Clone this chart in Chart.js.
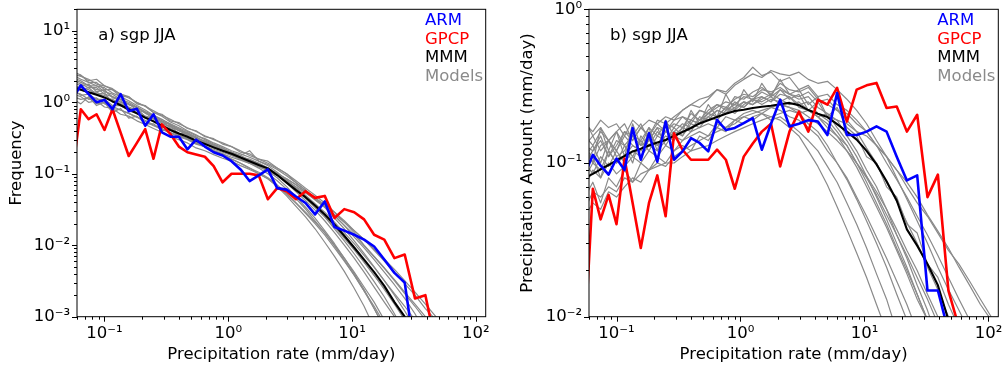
<!DOCTYPE html>
<html>
<head>
<meta charset="utf-8">
<title>sgp JJA precipitation distributions</title>
<script src="https://cdn.jsdelivr.net/npm/chart.js@4.4.1/dist/chart.umd.min.js"></script>
<style>
  body { margin: 0; background: #fff; }
  #wrap { position: relative; width: 1005px; height: 371px; }
  #wrap canvas { position: absolute; top: 0; }
</style>
</head>
<body>
<div id="wrap">
  <canvas id="freqChart" width="500" height="371" style="left:0"></canvas>
  <canvas id="amountChart" width="505" height="371" style="left:500px"></canvas>
</div>
<script>
// bin centres of the precipitation rate histogram (mm/day)
const rateBins = [0.05572, 0.06442, 0.07447, 0.08630, 0.1000, 0.1161, 0.1349, 0.1570, 0.1828, 0.2133,
  0.2489, 0.2911, 0.3404, 0.3990, 0.4677, 0.5495, 0.6471, 0.7621, 0.8995, 1.062,
  1.256, 1.486, 1.762, 2.089, 2.483, 2.958, 3.524, 4.207, 5.023, 6.012,
  7.211, 8.650, 10.40, 12.50, 15.07, 18.20, 21.98, 26.61, 32.21, 39.08,
  47.53, 57.81, 70.47, 86.10, 105.2, 128.8];

// a) frequency
const armFreq = [1.15, 1.73, 1.30, 1.00, 1.08, 0.80, 1.30, 0.75, 0.81, 0.47, 0.68, 0.38, 0.33, 0.33, 0.22, 0.30, 0.24, 0.20, 0.18, 0.15,
  0.115, 0.079, 0.095, 0.115, 0.063, 0.060, 0.048, 0.039, 0.027, 0.041, 0.018, 0.016, 0.014, 0.012, 0.0096, 0.0063, 0.0041, 0.0030, 0.0003];
const gpcpFreq = [0.12, 0.80, 0.58, 0.68, 0.41, 0.80, 0.38, 0.177, 0.27, 0.42, 0.162, 0.49, 0.36, 0.24, 0.20, 0.186, 0.173, 0.128, 0.076, 0.10,
  0.10, 0.10, 0.095, 0.044, 0.063, 0.057, 0.044, 0.057, 0.046, 0.049, 0.024, 0.032, 0.029, 0.023, 0.014, 0.012, 0.0066, 0.0074, 0.0018, 0.0020, 0.0004];
const mmmFreq = [1.62, 1.50, 1.38, 1.27, 1.17, 1.03, 0.91, 0.80, 0.70, 0.61, 0.54, 0.47, 0.41, 0.366, 0.33, 0.29, 0.26, 0.234, 0.21, 0.19,
  0.169, 0.15, 0.133, 0.119, 0.096, 0.075, 0.059, 0.047, 0.036, 0.027, 0.0195, 0.0136, 0.0093, 0.0063, 0.0042, 0.0027, 0.0016, 0.0010, 0.0005];
const freqModels = [
  [2.5, 2.3, 2.1, 1.8, 1.7, 1.5, 1.3, 1.15, 1.0, 0.88, 0.76, 0.66, 0.58, 0.50, 0.44, 0.39, 0.34, 0.30, 0.27, 0.24, 0.21,
   0.18, 0.16, 0.14, 0.12, 0.10, 0.080, 0.063, 0.050, 0.039, 0.029, 0.021, 0.015, 0.010, 0.0070, 0.0048, 0.0032, 0.0021, 0.0014, 0.0009, 0.0005],
  [1.1, 0.95, 1.2, 0.9, 1.0, 0.72, 0.82, 0.60, 0.64, 0.50, 0.50, 0.40, 0.42, 0.33, 0.31, 0.27, 0.24, 0.21, 0.19, 0.16, 0.14,
   0.12, 0.105, 0.088, 0.070, 0.053, 0.039, 0.028, 0.020, 0.014, 0.0092, 0.0060, 0.0038, 0.0023, 0.0014, 0.0008, 0.0004],
  [1.9, 1.7, 1.8, 1.4, 1.5, 1.15, 1.1, 0.92, 0.85, 0.70, 0.64, 0.52, 0.49, 0.40, 0.38, 0.31, 0.29, 0.25, 0.22, 0.20, 0.18,
   0.155, 0.14, 0.12, 0.10, 0.080, 0.062, 0.047, 0.036, 0.027, 0.019, 0.013, 0.0088, 0.0058, 0.0038, 0.0024, 0.0015, 0.0009, 0.0005],
  [2.7, 2.4, 2.0, 2.1, 1.7, 1.55, 1.3, 1.2, 0.98, 0.88, 0.72, 0.64, 0.53, 0.47, 0.40, 0.35, 0.30, 0.26, 0.23, 0.20, 0.17,
   0.15, 0.13, 0.11, 0.088, 0.066, 0.048, 0.034, 0.024, 0.016, 0.0105, 0.0066, 0.0040, 0.0024, 0.0013, 0.0007],
  [1.4, 1.3, 1.1, 1.15, 0.95, 0.88, 0.78, 0.70, 0.62, 0.54, 0.47, 0.42, 0.37, 0.33, 0.30, 0.26, 0.24, 0.21, 0.19, 0.17, 0.155,
   0.14, 0.125, 0.11, 0.095, 0.080, 0.066, 0.054, 0.044, 0.035, 0.027, 0.021, 0.016, 0.012, 0.0088, 0.0064, 0.0046, 0.0032, 0.0022, 0.0015, 0.0010, 0.0006],
  [2.0, 1.8, 1.6, 1.6, 1.3, 1.2, 1.0, 0.95, 0.78, 0.72, 0.58, 0.54, 0.44, 0.41, 0.35, 0.32, 0.27, 0.25, 0.22, 0.20, 0.18,
   0.21, 0.15, 0.13, 0.105, 0.082, 0.062, 0.046, 0.034, 0.025, 0.017, 0.0115, 0.0076, 0.0049, 0.0031, 0.0019, 0.0011, 0.0006],
  [1.3, 1.2, 1.0, 1.05, 0.86, 0.82, 0.68, 0.64, 0.55, 0.49, 0.43, 0.38, 0.33, 0.30, 0.27, 0.23, 0.21, 0.185, 0.165, 0.15, 0.13,
   0.115, 0.10, 0.085, 0.068, 0.052, 0.039, 0.029, 0.021, 0.015, 0.010, 0.0066, 0.0042, 0.0026, 0.0016, 0.0009, 0.0005],
  [2.2, 2.0, 1.7, 1.7, 1.4, 1.3, 1.1, 1.0, 0.86, 0.74, 0.66, 0.57, 0.50, 0.44, 0.39, 0.34, 0.31, 0.27, 0.24, 0.21, 0.19,
   0.17, 0.15, 0.135, 0.115, 0.094, 0.075, 0.059, 0.046, 0.035, 0.026, 0.019, 0.013, 0.0092, 0.0063, 0.0042, 0.0028, 0.0018, 0.0011, 0.0006],
  [1.7, 1.6, 1.5, 1.3, 1.25, 1.05, 0.95, 0.84, 0.72, 0.62, 0.55, 0.46, 0.41, 0.35, 0.31, 0.27, 0.24, 0.21, 0.18, 0.16, 0.14,
   0.12, 0.10, 0.085, 0.066, 0.049, 0.035, 0.025, 0.017, 0.011, 0.0070, 0.0043, 0.0025, 0.0014, 0.0007],
  [1.8, 1.5, 1.6, 1.3, 1.35, 1.0, 1.05, 0.80, 0.82, 0.62, 0.60, 0.46, 0.47, 0.36, 0.37, 0.29, 0.28, 0.23, 0.22, 0.18, 0.17,
   0.14, 0.135, 0.115, 0.098, 0.076, 0.060, 0.045, 0.034, 0.025, 0.018, 0.0125, 0.0086, 0.0058, 0.0038, 0.0025, 0.0016, 0.0009, 0.0005],
  [1.2, 1.1, 1.15, 0.95, 1.0, 0.82, 0.78, 0.70, 0.62, 0.56, 0.48, 0.43, 0.38, 0.34, 0.31, 0.27, 0.245, 0.22, 0.20, 0.18, 0.16,
   0.145, 0.13, 0.115, 0.10, 0.085, 0.070, 0.057, 0.046, 0.037, 0.029, 0.022, 0.016, 0.012, 0.0085, 0.0060, 0.0042, 0.0029, 0.0020, 0.0013, 0.0009, 0.0005],
  [2.4, 2.1, 1.9, 1.7, 1.6, 1.35, 1.2, 1.05, 0.90, 0.78, 0.66, 0.58, 0.49, 0.43, 0.37, 0.33, 0.28, 0.25, 0.22, 0.195, 0.17,
   0.15, 0.13, 0.115, 0.095, 0.074, 0.056, 0.042, 0.031, 0.022, 0.015, 0.010, 0.0066, 0.0042, 0.0026, 0.0016, 0.0010, 0.0006],
  [1.6, 1.5, 1.35, 1.4, 1.15, 1.1, 0.95, 0.86, 0.78, 0.64, 0.60, 0.50, 0.46, 0.40, 0.35, 0.32, 0.27, 0.25, 0.21, 0.20, 0.17,
   0.16, 0.14, 0.12, 0.10, 0.082, 0.064, 0.050, 0.038, 0.029, 0.021, 0.015, 0.0105, 0.0072, 0.0049, 0.0032, 0.0021, 0.0014, 0.0009, 0.0005],
  [2.3, 2.4, 1.9, 1.9, 1.5, 1.5, 1.2, 1.2, 0.95, 0.90, 0.72, 0.68, 0.55, 0.52, 0.43, 0.40, 0.33, 0.31, 0.26, 0.24, 0.20,
   0.19, 0.16, 0.15, 0.12, 0.10, 0.075, 0.060, 0.044, 0.034, 0.024, 0.017, 0.0115, 0.0077, 0.0050, 0.0032, 0.0020, 0.0012, 0.0007],
  [1.5, 1.25, 1.3, 1.1, 1.1, 0.90, 0.90, 0.76, 0.70, 0.60, 0.55, 0.47, 0.43, 0.37, 0.34, 0.29, 0.27, 0.23, 0.21, 0.19, 0.17,
   0.15, 0.135, 0.12, 0.10, 0.085, 0.070, 0.055, 0.043, 0.034, 0.026, 0.019, 0.014, 0.0098, 0.0069, 0.0048, 0.0033, 0.0022, 0.0015, 0.0010, 0.0006],
  [2.1, 1.9, 1.7, 1.5, 1.45, 1.2, 1.1, 0.95, 0.85, 0.72, 0.64, 0.55, 0.48, 0.42, 0.36, 0.32, 0.28, 0.24, 0.21, 0.19, 0.16,
   0.14, 0.12, 0.10, 0.080, 0.061, 0.045, 0.032, 0.022, 0.015, 0.0098, 0.0062, 0.0038, 0.0023, 0.0013, 0.0007]
];

// b) precipitation amount (mm/day)
const armAmount = [0.085, 0.113, 0.096, 0.084, 0.107, 0.090, 0.169, 0.105, 0.156, 0.102, 0.186, 0.105, 0.119, 0.145, 0.135, 0.119, 0.191, 0.164, 0.169, 0.182,
  0.196, 0.122, 0.18, 0.258, 0.173, 0.18, 0.19, 0.186, 0.152, 0.285, 0.152, 0.152, 0.16, 0.173, 0.16, 0.11, 0.077, 0.083, 0.0148, 0.0148, 0.008, 0.003];
const gpcpAmount = [0.0076, 0.068, 0.043, 0.062, 0.040, 0.107, 0.055, 0.028, 0.055, 0.083, 0.045, 0.156, 0.122, 0.105, 0.105, 0.105, 0.122, 0.105, 0.068, 0.11,
  0.134, 0.16, 0.18, 0.095, 0.16, 0.216, 0.16, 0.258, 0.24, 0.308, 0.186, 0.30, 0.32, 0.332, 0.228, 0.233, 0.16, 0.206, 0.060, 0.084, 0.0148, 0.0085, 0.004];
const mmmAmount = [0.080, 0.085, 0.091, 0.097, 0.104, 0.111, 0.119, 0.124, 0.130, 0.136, 0.141, 0.150, 0.159, 0.169, 0.181, 0.190, 0.199, 0.209, 0.218, 0.222,
  0.228, 0.232, 0.236, 0.241, 0.246, 0.238, 0.221, 0.209, 0.199, 0.179, 0.160, 0.142, 0.120, 0.098, 0.076, 0.057, 0.037, 0.029, 0.022, 0.016, 0.0095, 0.005];
const amountModels = [
  [0.18, 0.16, 0.19, 0.17, 0.18, 0.15, 0.19, 0.17, 0.19, 0.18, 0.20, 0.19, 0.22, 0.24, 0.26, 0.27, 0.30, 0.28, 0.32, 0.35, 0.38,
   0.36, 0.40, 0.38, 0.37, 0.39, 0.35, 0.33, 0.34, 0.30, 0.26, 0.22, 0.18, 0.14, 0.11, 0.08, 0.058, 0.042, 0.030, 0.021, 0.015, 0.011, 0.008],
  [0.06, 0.075, 0.055, 0.08, 0.07, 0.09, 0.075, 0.10, 0.09, 0.11, 0.10, 0.12, 0.13, 0.12, 0.15, 0.14, 0.17, 0.16, 0.19, 0.18, 0.20,
   0.21, 0.19, 0.20, 0.18, 0.16, 0.14, 0.12, 0.095, 0.075, 0.055, 0.040, 0.028, 0.019, 0.013, 0.008],
  [0.11, 0.13, 0.10, 0.14, 0.12, 0.15, 0.13, 0.12, 0.16, 0.13, 0.15, 0.14, 0.17, 0.16, 0.20, 0.19, 0.22, 0.21, 0.25, 0.23, 0.26,
   0.27, 0.25, 0.28, 0.27, 0.24, 0.25, 0.21, 0.19, 0.16, 0.13, 0.10, 0.075, 0.055, 0.040, 0.028, 0.020, 0.014, 0.0095],
  [0.14, 0.10, 0.17, 0.12, 0.16, 0.11, 0.18, 0.13, 0.17, 0.12, 0.19, 0.15, 0.16, 0.22, 0.18, 0.24, 0.20, 0.28, 0.22, 0.30, 0.25,
   0.33, 0.27, 0.35, 0.28, 0.30, 0.24, 0.27, 0.20, 0.19, 0.15, 0.12, 0.09, 0.07, 0.05, 0.034, 0.024, 0.016, 0.011, 0.007],
  [0.05, 0.065, 0.06, 0.07, 0.065, 0.08, 0.075, 0.085, 0.09, 0.095, 0.10, 0.10, 0.11, 0.12, 0.125, 0.13, 0.14, 0.15, 0.16, 0.17, 0.18,
   0.19, 0.20, 0.21, 0.22, 0.21, 0.22, 0.20, 0.21, 0.19, 0.18, 0.16, 0.15, 0.13, 0.11, 0.09, 0.075, 0.06, 0.046, 0.036, 0.028,
   0.021, 0.016, 0.012, 0.0095],
  [0.09, 0.11, 0.08, 0.12, 0.10, 0.13, 0.11, 0.14, 0.12, 0.15, 0.14, 0.16, 0.15, 0.18, 0.17, 0.20, 0.19, 0.22, 0.24, 0.23, 0.26,
   0.25, 0.27, 0.24, 0.23, 0.21, 0.18, 0.16, 0.13, 0.10, 0.078, 0.058, 0.042, 0.030, 0.021, 0.014, 0.0095],
  [0.13, 0.12, 0.15, 0.11, 0.14, 0.13, 0.10, 0.15, 0.13, 0.16, 0.14, 0.17, 0.15, 0.19, 0.18, 0.21, 0.20, 0.23, 0.22, 0.25, 0.24,
   0.27, 0.25, 0.30, 0.26, 0.28, 0.22, 0.25, 0.20, 0.23, 0.17, 0.15, 0.11, 0.10, 0.07, 0.06, 0.04, 0.035, 0.022, 0.018, 0.012, 0.0085],
  [0.19, 0.15, 0.17, 0.14, 0.16, 0.18, 0.14, 0.17, 0.15, 0.18, 0.16, 0.19, 0.20, 0.18, 0.22, 0.21, 0.24, 0.23, 0.26, 0.28, 0.27,
   0.30, 0.29, 0.31, 0.28, 0.26, 0.27, 0.23, 0.21, 0.17, 0.14, 0.11, 0.082, 0.060, 0.043, 0.030, 0.021, 0.014, 0.0095],
  [0.07, 0.09, 0.08, 0.10, 0.085, 0.095, 0.11, 0.10, 0.12, 0.11, 0.13, 0.12, 0.14, 0.15, 0.16, 0.15, 0.18, 0.17, 0.19, 0.20, 0.19,
   0.21, 0.20, 0.19, 0.17, 0.15, 0.12, 0.095, 0.072, 0.052, 0.037, 0.026, 0.018, 0.012, 0.008],
  [0.10, 0.12, 0.14, 0.11, 0.13, 0.16, 0.14, 0.17, 0.15, 0.19, 0.18, 0.20, 0.22, 0.24, 0.23, 0.26, 0.30, 0.29, 0.33, 0.36, 0.42,
   0.37, 0.39, 0.34, 0.36, 0.30, 0.32, 0.27, 0.28, 0.24, 0.22, 0.19, 0.16, 0.13, 0.10, 0.078, 0.060, 0.045, 0.034, 0.025, 0.018, 0.013, 0.0095],
  [0.12, 0.10, 0.13, 0.14, 0.11, 0.12, 0.15, 0.13, 0.14, 0.17, 0.13, 0.16, 0.18, 0.17, 0.19, 0.21, 0.20, 0.23, 0.21, 0.24, 0.26,
   0.24, 0.26, 0.25, 0.27, 0.23, 0.22, 0.20, 0.17, 0.15, 0.12, 0.094, 0.070, 0.052, 0.038, 0.027, 0.019, 0.013, 0.0095, 0.006],
  [0.045, 0.055, 0.05, 0.065, 0.06, 0.07, 0.08, 0.075, 0.09, 0.10, 0.095, 0.11, 0.12, 0.13, 0.14, 0.15, 0.16, 0.17, 0.18, 0.20, 0.21,
   0.22, 0.23, 0.24, 0.23, 0.22, 0.20, 0.18, 0.16, 0.14, 0.12, 0.10, 0.082, 0.065, 0.050, 0.037, 0.027, 0.020, 0.014, 0.010, 0.007],
  [0.15, 0.13, 0.16, 0.14, 0.12, 0.16, 0.15, 0.18, 0.14, 0.17, 0.16, 0.18, 0.17, 0.21, 0.19, 0.22, 0.24, 0.22, 0.27, 0.26, 0.29,
   0.31, 0.28, 0.33, 0.30, 0.29, 0.31, 0.26, 0.24, 0.22, 0.19, 0.16, 0.125, 0.10, 0.075, 0.056, 0.041, 0.030, 0.021, 0.015, 0.010, 0.007],
  [0.08, 0.10, 0.09, 0.12, 0.10, 0.11, 0.13, 0.12, 0.14, 0.13, 0.16, 0.15, 0.17, 0.19, 0.18, 0.20, 0.22, 0.21, 0.23, 0.25, 0.24,
   0.26, 0.28, 0.26, 0.24, 0.25, 0.22, 0.20, 0.18, 0.15, 0.13, 0.10, 0.080, 0.062, 0.046, 0.034, 0.025, 0.018, 0.013, 0.009],
  [0.10, 0.085, 0.11, 0.095, 0.12, 0.10, 0.12, 0.11, 0.13, 0.12, 0.14, 0.15, 0.14, 0.16, 0.17, 0.18, 0.17, 0.20, 0.19, 0.21, 0.22,
   0.21, 0.23, 0.22, 0.20, 0.19, 0.17, 0.15, 0.12, 0.10, 0.080, 0.060, 0.045, 0.033, 0.024, 0.017, 0.012, 0.008],
  [0.13, 0.15, 0.12, 0.14, 0.16, 0.13, 0.15, 0.14, 0.17, 0.15, 0.18, 0.17, 0.20, 0.19, 0.22, 0.21, 0.23, 0.25, 0.24, 0.27, 0.26,
   0.29, 0.27, 0.30, 0.28, 0.27, 0.29, 0.25, 0.26, 0.22, 0.21, 0.18, 0.16, 0.13, 0.11, 0.09, 0.07, 0.055, 0.045, 0.035, 0.027,
   0.022, 0.017, 0.013, 0.010]
];

// axes
const xTickValues = [0.1, 1, 10, 100];
const xTickLabels = ['10⁻¹', '10⁰', '10¹', '10²'];
const freqTickValues = [0.001, 0.01, 0.1, 1, 10];
const freqTickLabels = ['10⁻³', '10⁻²', '10⁻¹', '10⁰', '10¹'];
const amountTickValues = [0.01, 0.1, 1];
const amountTickLabels = ['10⁻²', '10⁻¹', '10⁰'];

const seriesNames = ['ARM', 'GPCP', 'MMM', 'Models'];
const seriesColors = ['#0000ff', '#ff0000', '#000000', '#8a8a8a'];

Chart.defaults.font.family = '"DejaVu Sans", sans-serif';
Chart.defaults.font.size = 16.5;
Chart.defaults.color = '#000';

const decades = [0.001, 0.01, 0.1, 1, 10, 100];

// major ticks on decades, minor ticks at 2..9 like matplotlib's log locator
function logTicks(min, max) {
  const out = [];
  decades.forEach(d => {
    for (let m = 1; m <= 9; m++) {
      const v = m === 1 ? d : m * d;
      if (v >= min * 0.9999 && v <= max * 1.0001) out.push({ value: v });
    }
  });
  return out;
}

function points(values) {
  return values.map((v, i) => ({ x: rateBins[i], y: v }));
}

function buildDatasets(arm, gpcp, mmm, models) {
  const sets = [
    { label: 'ARM', data: points(arm), borderColor: seriesColors[0], borderWidth: 2.6 },
    { label: 'GPCP', data: points(gpcp), borderColor: seriesColors[1], borderWidth: 2.6 },
    { label: 'MMM', data: points(mmm), borderColor: seriesColors[2], borderWidth: 2.1 }
  ];
  models.forEach((m, k) => {
    sets.push({ label: 'Model ' + (k + 1), data: points(m), borderColor: seriesColors[3], borderWidth: 1.2 });
  });
  return sets;
}

// frame, outward tick marks, panel label and coloured legend text
const decor = {
  id: 'decor',
  afterDraw(chart, args, opts) {
    const { ctx, chartArea: a, scales } = chart;
    ctx.save();
    ctx.strokeStyle = '#000';
    ctx.lineWidth = 1;
    scales.x.ticks.forEach(t => {
      const len = xTickValues.includes(t.value) ? 5 : 3;
      const px = Math.round(scales.x.getPixelForValue(t.value)) + 0.5;
      ctx.beginPath();
      ctx.moveTo(px, a.bottom);
      ctx.lineTo(px, a.bottom + len);
      ctx.stroke();
    });
    scales.y.ticks.forEach(t => {
      const len = opts.yMajor.includes(t.value) ? 5 : 3;
      const py = Math.round(scales.y.getPixelForValue(t.value)) + 0.5;
      ctx.beginPath();
      ctx.moveTo(a.left, py);
      ctx.lineTo(a.left - len, py);
      ctx.stroke();
    });
    ctx.strokeRect(a.left, a.top, a.right - a.left, a.bottom - a.top);

    ctx.font = '16.5px "DejaVu Sans"';
    ctx.textAlign = 'left';
    ctx.textBaseline = 'alphabetic';
    ctx.fillStyle = '#000';
    ctx.fillText(opts.label, opts.labelX, 40);
    seriesNames.forEach((name, k) => {
      ctx.fillStyle = seriesColors[k];
      ctx.fillText(name, opts.legendX, 25 + k * 18.6);
    });
    ctx.restore();
  }
};

function makeChart(id, cfg) {
  return new Chart(document.getElementById(id), {
    type: 'line',
    data: { datasets: cfg.datasets },
    plugins: [decor],
    options: {
      responsive: false,
      animation: false,
      events: [],
      layout: { padding: { left: 0, top: 9.3, right: cfg.padRight, bottom: 0 } },
      elements: {
        point: { radius: 0 },
        line: { tension: 0, fill: false, borderJoinStyle: 'round' }
      },
      plugins: {
        legend: { display: false },
        tooltip: { enabled: false },
        decor: { label: cfg.label, labelX: cfg.labelX, legendX: cfg.legendX, yMajor: cfg.yTicks }
      },
      scales: {
        x: {
          type: 'logarithmic',
          min: 0.06,
          max: 120,
          grid: { display: false, drawTicks: false },
          border: { display: false },
          afterBuildTicks: s => { s.ticks = logTicks(0.06, 120); },
          afterFit: s => { s.height = 54.3; s.paddingLeft = 0; s.paddingRight = 0; },
          ticks: {
            autoSkip: false, maxRotation: 0, minRotation: 0, padding: 7, color: '#000',
            callback: v => { const k = xTickValues.indexOf(v); return k < 0 ? '' : xTickLabels[k]; }
          },
          title: { display: true, text: 'Precipitation rate (mm/day)', color: '#000', padding: { top: 0, bottom: 6 } }
        },
        y: {
          type: 'logarithmic',
          min: cfg.yMin,
          max: cfg.yMax,
          grid: { display: false, drawTicks: false },
          border: { display: false },
          afterBuildTicks: s => { s.ticks = logTicks(cfg.yMin, cfg.yMax); },
          afterFit: s => { s.width = cfg.yWidth; s.paddingTop = 0; s.paddingBottom = 0; },
          ticks: {
            autoSkip: false, padding: 7, color: '#000',
            callback: v => { const k = cfg.yTicks.indexOf(v); return k < 0 ? '' : cfg.yLabels[k]; }
          },
          title: { display: true, text: cfg.yTitle, color: '#000', padding: { top: cfg.yTitlePad, bottom: 0 } }
        }
      }
    }
  });
}

makeChart('freqChart', {
  datasets: buildDatasets(armFreq, gpcpFreq, mmmFreq, freqModels),
  yMin: 0.001, yMax: 20, yTicks: freqTickValues, yLabels: freqTickLabels,
  yTitle: 'Frequency', yTitlePad: 7, yWidth: 77, padRight: 14.3,
  label: 'a) sgp JJA', labelX: 98.3, legendX: 425
});

makeChart('amountChart', {
  datasets: buildDatasets(armAmount, gpcpAmount, mmmAmount, amountModels),
  yMin: 0.01, yMax: 1, yTicks: amountTickValues, yLabels: amountTickLabels,
  yTitle: 'Precipitation Amount (mm/day)', yTitlePad: 17.8, yWidth: 89, padRight: 6.7,
  label: 'b) sgp JJA', labelX: 110, legendX: 437.3
});
</script>
</body>
</html>
